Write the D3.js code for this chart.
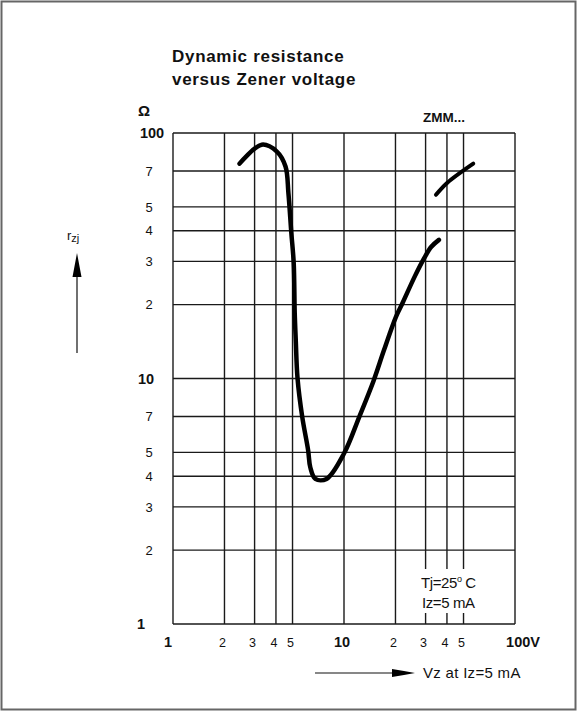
<!DOCTYPE html>
<html>
<head>
<meta charset="utf-8">
<script src="https://cdn.jsdelivr.net/npm/d3@7"></script>
<style>
  body { margin: 0; background: #fff; }
  svg text { font-family: "Liberation Sans", Arial, sans-serif; fill: #111; }
</style>
</head>
<body>
<div id="chart"></div>
<script>
var W = 577, H = 713;

// chart data
var xTicks = [1, 2, 3, 4, 5, 10, 20, 30, 40, 50, 100];
var xTickLabels = ["1", "2", "3", "4", "5", "10", "2", "3", "4", "5", "100V"];
var yTicks = [1, 2, 3, 4, 5, 7, 10, 20, 30, 40, 50, 70, 100];
var yTickLabels = ["1", "2", "3", "4", "5", "7", "10", "2", "3", "4", "5", "7", "100"];

// main curve (Vz in V, rzj in ohm)
var mainVz = [2.45, 3.3, 4.05, 4.55, 4.73, 4.92, 5.08, 5.15, 5.22, 5.35, 5.7, 6.17, 6.35, 6.8, 7.9, 10, 12.3, 14.9, 17.1, 20.1, 22, 25.9, 29.5, 32.4, 35.9];
var mainRz = [75, 89.6, 84, 73, 57, 39.2, 29.6, 18.5, 14.5, 10, 6.97, 5.1, 4.35, 3.9, 3.9, 4.95, 7.0, 9.8, 13, 17.8, 20.3, 26, 31, 34.4, 36.7];
// upper segment
var upperVz = [34.5, 40.2, 57];
var upperRz = [56, 62.7, 75];

var svg = d3.select("#chart").append("svg")
    .attr("width", W)
    .attr("height", H);

svg.append("rect")
    .attr("x", 1.5).attr("y", 1.5)
    .attr("width", W - 3).attr("height", H - 5)
    .attr("fill", "#fff")
    .attr("stroke", "#666")
    .attr("stroke-width", 2);

var x = d3.scaleLog().domain([1, 100]).range([173, 515]);
var y = d3.scaleLog().domain([1, 100]).range([624, 133]);

//grid
var grid = svg.append("g").attr("stroke", "#1a1a1a").attr("stroke-width", 1.4);
grid.selectAll("line.v").data(xTicks).enter().append("line")
    .attr("x1", d => x(d)).attr("x2", d => x(d))
    .attr("y1", y(1)).attr("y2", y(100));
grid.selectAll("line.h").data(yTicks).enter().append("line")
    .attr("y1", d => y(d)).attr("y2", d => y(d))
    .attr("x1", x(1)).attr("x2", x(100));

function isMajor(d) { return d == 1 || d == 10 || d == 100; }

// y labels
svg.append("g").selectAll("text").data(yTicks).enter().append("text")
    .attr("x", d => d == 100 ? 152 : d == 10 ? 146 : d == 1 ? 141 : 149)
    .attr("y", d => y(d))
    .attr("dy", "0.36em")
    .attr("text-anchor", "middle")
    .style("font-size", d => isMajor(d) ? "14.5px" : "13px")
    .style("font-weight", d => isMajor(d) ? "bold" : "normal")
    .text((d, i) => yTickLabels[i]);

// x labels
svg.append("g").selectAll("text").data(xTicks).enter().append("text")
    .attr("x", d => d == 100 ? x(d) + 8 : d == 1 ? x(d) - 5 : x(d) - 2)
    .attr("y", 647)
    .attr("text-anchor", "middle")
    .style("font-size", d => isMajor(d) ? "14.5px" : "12.5px")
    .style("font-weight", d => isMajor(d) ? "bold" : "normal")
    .text((d, i) => xTickLabels[i]);

// conditions box
var note = svg.append("g");
note.append("rect")
    .attr("x", 418).attr("y", 569)
    .attr("width", 70).attr("height", 44)
    .attr("fill", "#fff");
var t1 = note.append("text").attr("x", 421).attr("y", 588).style("font-size", "15px").style("letter-spacing", "-0.4px");
t1.append("tspan").text("Tj=25");
t1.append("tspan").attr("dy", -6).style("font-size", "9px").text("o");
t1.append("tspan").attr("dy", 6).text(" C");
note.append("text").attr("x", 422).attr("y", 608).style("font-size", "15px").style("letter-spacing", "-0.4px")
    .text("Iz=5 mA");

// curves
var line = d3.line()
    .x(d => x(d[0]))
    .y(d => y(d[1]))
    .curve(d3.curveCatmullRom.alpha(0.5));

svg.append("path")
    .datum(d3.zip(mainVz, mainRz))
    .attr("d", line)
    .attr("fill", "none")
    .attr("stroke", "#000")
    .attr("stroke-width", 4.5)
    .attr("stroke-linecap", "round")
    .attr("stroke-linejoin", "round");

svg.append("path")
    .datum(d3.zip(upperVz, upperRz))
    .attr("d", line)
    .attr("fill", "none")
    .attr("stroke", "#000")
    .attr("stroke-width", 4)
    .attr("stroke-linecap", "round");

// titles
svg.append("text").attr("x", 172).attr("y", 62)
    .style("font-size", "17px").style("font-weight", "bold").style("letter-spacing", "0.7px")
    .text("Dynamic resistance");
svg.append("text").attr("x", 172).attr("y", 85)
    .style("font-size", "17px").style("font-weight", "bold").style("letter-spacing", "0.7px")
    .text("versus Zener voltage");
svg.append("text").attr("x", 138).attr("y", 116)
    .style("font-size", "15px").style("font-weight", "bold")
    .text("\u03A9");
svg.append("text").attr("x", 423).attr("y", 122)
    .style("font-size", "13.5px").style("font-weight", "bold")
    .text("ZMM...");

// y axis caption with arrow
var rz = svg.append("text").attr("x", 67).attr("y", 240).style("font-size", "13px");
rz.append("tspan").text("r");
rz.append("tspan").attr("dy", 2).style("font-size", "11px").text("zj");
svg.append("line")
    .attr("x1", 77).attr("x2", 77).attr("y1", 353).attr("y2", 265)
    .attr("stroke", "#111").attr("stroke-width", 1.2);
svg.append("path")
    .attr("d", "M77,253 L81.5,277 L72.5,277 Z")
    .attr("fill", "#000");

// x axis caption with arrow
svg.append("line")
    .attr("x1", 315).attr("x2", 400).attr("y1", 673).attr("y2", 673)
    .attr("stroke", "#111").attr("stroke-width", 1.2);
svg.append("path")
    .attr("d", "M392,669 L404,671 L415,673 L404,675 L392,677 Z")
    .attr("fill", "#000");
svg.append("text").attr("x", 423).attr("y", 678)
    .style("font-size", "15px").style("letter-spacing", "0.3px")
    .text("Vz at Iz=5 mA");
</script>
</body>
</html>
